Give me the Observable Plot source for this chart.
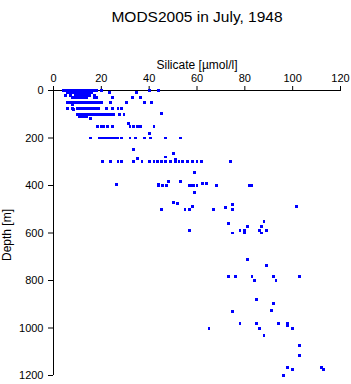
<!DOCTYPE html>
<html>
<head>
<meta charset="utf-8">
<script src="https://cdn.jsdelivr.net/npm/d3@7"></script>
<script src="https://cdn.jsdelivr.net/npm/@observablehq/plot@0.6"></script>
<style>
  html, body { margin: 0; padding: 0; background: #fff; }
  svg { display: block; }
</style>
</head>
<body>
<div id="chart"></div>
<script>
const title = "MODS2005 in July, 1948";
const xLabel = "Silicate [µmol/l]";
const yLabel = "Depth [m]";
const xTicks = [0, 20, 40, 60, 80, 100, 120];
const yTicks = [0, 200, 400, 600, 800, 1000, 1200];

// Observations, row by row (depth in m, silicate in µmol/l)
const depth = [
  0,0,0,0,0,0,0,0,0,0,0,0,0,0,0,0,0,0,
  10,10,10,10,10,10,10,10,10,10,10,10,10,
  20,20,20,20,20,20,20,20,20,20,
  30,30,30,30,30,30,30,30,30,30,30,30,
  50,50,50,50,50,50,50,50,50,50,50,50,50,50,50,50,50,50,50,
  60,
  75,75,75,75,75,75,75,75,75,75,75,75,75,75,75,75,
  80,
  100,100,100,100,100,100,100,100,100,100,100,100,100,100,100,100,100,100,
  97,
  108,108,108,108,
  118,
  138,
  150,150,150,150,150,150,150,150,150,150,
  180,
  200,200,200,200,200,200,200,200,200,200,200,200,200,200,200,200,200,
  250,
  285,
  265,280,290,
  300,300,300,300,300,300,300,300,300,300,300,300,300,300,300,300,300,300,300,300,
  345,
  396,396,
  400,400,400,383,383,400,400,400,400,393,393,400,400,400,
  430,
  470,475,
  490,
  500,500,500,490,500,493,500,480,
  560,550,
  573,573,
  590,590,590,590,590,
  600,600,600,
  712,737,
  783,783,783,783,783,
  800,800,
  880,896,926,932,
  981,981,981,981,990,
  1002,1002,1002,
  1032,1074,1116,
  1166,1175,1166,1175,
  1200
];
const silicate = [
  4,5,6,7,8,9,10,11,12,13,14,15,16,17,18,20,40,44,
  6,7,8,9,10,11,12,13,14,15,16,23.5,34.6,
  5,7,9,10,11,12,13,14,15,17,
  8,9,10,11,12,13,14,17,18,24.5,33,36.4,
  6,7,8,9,10,11,12,13,14,15,16,17,18,19,20,24,30.5,38,41,
  8,
  6,8,10,11,12,13,14,15,16,17,18,19,22,24.5,27,28.5,
  8.5,
  10,11,12,13,14,15,16,17,18,19,20,21,22,23,24,25,27.5,29.5,
  45,
  11,12,13,14,
  15.5,
  31.5,
  18.5,20,21,22.5,24.7,32,33.5,35,36.5,42,
  40,
  15.5,19,20,21,22,23,24,25,26,27,28.5,32,34.3,38,40.6,47,53,
  33.5,
  35,
  50,47,51,
  20.6,24,27,28.5,33.5,37,40,42,43.5,45,47,49,51,52.5,54,56,58,60,62,74,
  59,
  26.5,44,
  44,45.6,47.3,48,53,57,57.7,58.6,60,62.3,64,68,82,83,
  59,
  50,52,
  101.7,
  45,55,57,58,67,72,75,75,
  73,88,
  81,87,
  57,78,80,86,89,
  75,80,87,
  81,89,
  73,76,83,92,103,
  84,93,
  85,92,91,75,
  78,85,94,98,98,
  65,86,100,
  88,103,103,
  98,100,112,113,
  96
];

const data = depth.map((d, i) => ({depth: d, silicate: silicate[i]}));

const font = "'Liberation Sans', Arial, Helvetica, sans-serif";

const chart = Plot.plot({
  width: 351,
  height: 384,
  marginLeft: 53,
  marginRight: 11,
  marginTop: 90,
  marginBottom: 9,
  style: {fontFamily: font, fontSize: "11px", background: "#fff", color: "#000"},
  x: {domain: [0, 120], label: null},
  y: {domain: [0, 1200], reverse: true, label: null},
  marks: [
    Plot.axisX({anchor: "top", ticks: xTicks, tickFormat: d => String(d), tickSize: 5, tickPadding: 4, label: null, fontSize: 11}),
    Plot.axisY({anchor: "left", ticks: yTicks, tickFormat: d => String(d), tickSize: 5, tickPadding: 5, label: null, fontSize: 11}),
    Plot.ruleY([0], {x1: 0, x2: 120, stroke: "#000"}),
    Plot.ruleX([0], {y1: 0, y2: 1200, stroke: "#000"}),
    Plot.dot(data, {x: "silicate", y: "depth", symbol: "square", r: 1.6, fill: "#0000ff", stroke: null, shapeRendering: "crispEdges"}),
    Plot.text([title], {text: d => d, frameAnchor: "top", dy: -80, fontSize: 15.5, fill: "#000"}),
    Plot.text([xLabel], {text: d => d, frameAnchor: "top", dy: -30, fontSize: 12, fill: "#000"}),
    Plot.text([yLabel], {text: d => d, frameAnchor: "left", dx: -46, dy: 28, rotate: -90, fontSize: 12, fill: "#000"})
  ]
});

document.getElementById("chart").appendChild(chart);
</script>
</body>
</html>
